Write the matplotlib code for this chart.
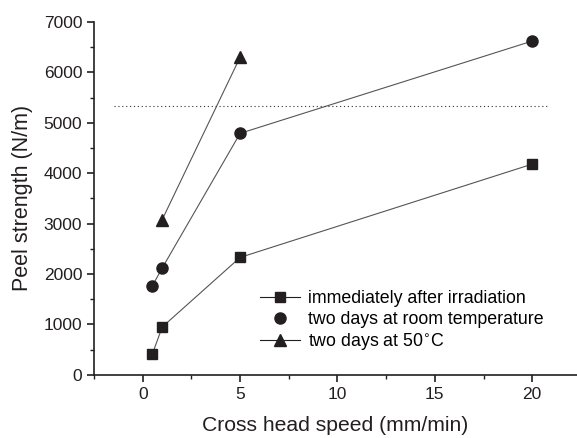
import matplotlib
matplotlib.use("Agg")
from matplotlib import pyplot as plt
from matplotlib.ticker import MultipleLocator

plt.rcParams['font.family'] = ['Liberation Sans', 'DejaVu Sans']

speed_sq = [0.5, 1, 5, 20]
peel_sq = [420, 950, 2330, 4180]
speed_ci = [0.5, 1, 5, 20]
peel_ci = [1770, 2120, 4790, 6620]
speed_tr = [1, 5]
peel_tr = [3080, 6300]
ref_level = 5340
ref_span = [-1.5, 20.8]

fig = plt.figure(figsize=(5.77, 4.38), dpi=100)
ax = fig.add_axes([0.163, 0.144, 0.837, 0.806])

lc = '#555555'
ax.plot(speed_sq, peel_sq, '-', color=lc, lw=0.8)
ax.plot(speed_ci, peel_ci, '-', color=lc, lw=0.8)
ax.plot(speed_tr, peel_tr, '-', color=lc, lw=0.8)
ax.plot(speed_sq, peel_sq, 's', color='#231f20', ms=7, ls='none')
ax.plot(speed_ci, peel_ci, 'o', color='#231f20', ms=8, ls='none')
ax.plot(speed_tr, peel_tr, '^', color='#231f20', ms=9, ls='none')
ax.hlines(ref_level, ref_span[0], ref_span[1], colors='#333333', linestyles=(0, (1, 2.5)), lw=0.8)

# legend proxies
h1, = ax.plot([], [], '-s', color='#231f20', ms=7, lw=0.8)
h2, = ax.plot([], [], 'o', color='#231f20', ms=8, ls='none')
h3, = ax.plot([], [], '-^', color='#231f20', ms=9, lw=0.8)
ax.legend([h1, h2, h3],
          ['immediately after irradiation', 'two days at room temperature', 'two days at 50$^{\\circ}$C'],
          loc='upper left', bbox_to_anchor=(0.344, 0.24), borderaxespad=0, borderpad=0,
          frameon=False, fontsize=12.8,
          handlelength=2.25, handletextpad=0.45, labelspacing=0.2)

ax.set_xlim(-2.5, 22.3)
ax.set_ylim(0, 7000)
ax.xaxis.set_major_locator(MultipleLocator(5))
ax.xaxis.set_minor_locator(MultipleLocator(2.5))
ax.yaxis.set_major_locator(MultipleLocator(1000))
ax.yaxis.set_minor_locator(MultipleLocator(500))
ax.spines['top'].set_visible(False)
ax.spines['right'].set_visible(False)
for s in ['left', 'bottom']:
    ax.spines[s].set_linewidth(1.2)
    ax.spines[s].set_color('#231f20')
ax.tick_params(which='major', direction='out', length=5, width=1.2, labelsize=12.5, colors='#231f20')
ax.tick_params(which='minor', direction='out', length=3, width=1.0, colors='#231f20')

ax.set_xlabel('Cross head speed (mm/min)', fontsize=15.2, labelpad=10, color='#231f20')
ax.set_ylabel('Peel strength (N/m)', fontsize=15.5, labelpad=8, color='#231f20')

fig.savefig('out.png', dpi=100)
